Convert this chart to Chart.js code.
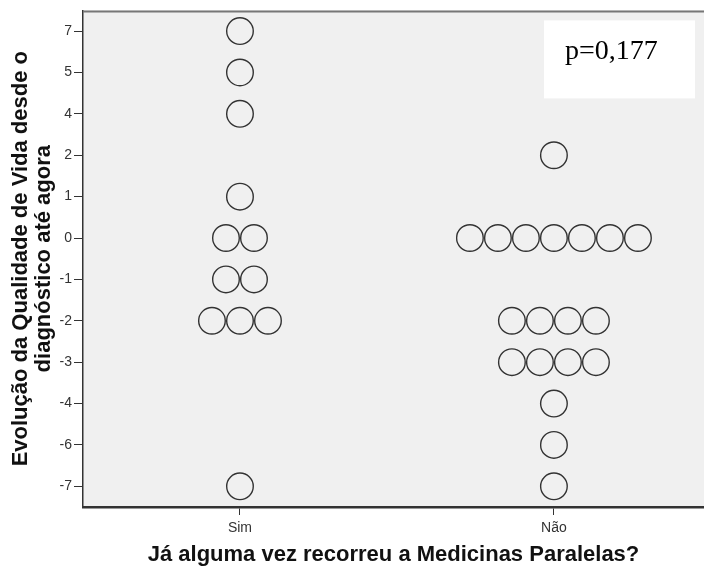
<!DOCTYPE html>
<html>
<head>
<meta charset="utf-8">
<script src="https://cdn.jsdelivr.net/npm/chart.js@4/dist/chart.umd.min.js"></script>
<style>
  html, body { margin: 0; padding: 0; background: #ffffff; overflow: hidden; }
  #wrap { width: 704px; height: 569px; position: relative; }
</style>
</head>
<body>
<div id="wrap"><canvas id="c"></canvas></div>
<script>
// ---- data ----
const groups = ['Sim', 'Não'];
const yLabels = ['7', '5', '4', '2', '1', '0', '-1', '-2', '-3', '-4', '-6', '-7'];
const simCounts = [1, 1, 1, 0, 1, 2, 2, 3, 0, 0, 0, 1];
const naoCounts = [0, 0, 0, 1, 0, 7, 0, 4, 4, 1, 1, 1];
const yTitle = ['Evolução da Qualidade de Vida desde o', 'diagnóstico até agora'];
const xTitle = 'Já alguma vez recorreu a Medicinas Paralelas?';
const pText = 'p=0,177';

// ---- build dot plot points (side-by-side stacking around the group) ----
const DOT_STEP = 0.0892; // horizontal spacing between stacked dots, in x units
function buildPoints(groupIndex, counts) {
  const pts = [];
  counts.forEach((n, i) => {
    for (let k = 0; k < n; k++) {
      pts.push({ x: groupIndex + (k - (n - 1) / 2) * DOT_STEP, y: yLabels[i] });
    }
  });
  return pts;
}

const dotStyle = {
  pointRadius: 13.3,
  pointHoverRadius: 13.3,
  pointBorderWidth: 1.4,
  pointBorderColor: '#333333',
  pointBackgroundColor: 'rgba(0,0,0,0)',
  showLine: false
};

const plotDecor = {
  id: 'plotDecor',
  beforeDraw(chart) {
    const { ctx, chartArea: a } = chart;
    ctx.save();
    ctx.fillStyle = '#f0f0f0';
    ctx.fillRect(a.left, a.top, a.right - a.left, a.bottom - a.top);
    ctx.restore();
  },
  afterDraw(chart) {
    const { ctx, chartArea: a } = chart;
    ctx.save();
    // top frame line
    ctx.strokeStyle = '#777777';
    ctx.lineWidth = 2;
    ctx.beginPath();
    ctx.moveTo(a.left, a.top + 1);
    ctx.lineTo(a.right, a.top + 1);
    ctx.stroke();
    // p-value box
    const bx = a.right - 160, by = a.top + 10, bw = 151, bh = 78;
    ctx.fillStyle = '#ffffff';
    ctx.fillRect(bx, by, bw, bh);
    ctx.fillStyle = '#000000';
    ctx.font = '28px "Liberation Serif", "Times New Roman", serif';
    ctx.textAlign = 'left';
    ctx.textBaseline = 'alphabetic';
    ctx.fillText(pText, bx + 21, by + 39);
    // y axis title (two lines, rotated)
    ctx.fillStyle = '#111111';
    ctx.font = 'bold 22px "Liberation Sans", Arial, sans-serif';
    ctx.textAlign = 'center';
    const cy = (a.top + a.bottom) / 2;
    yTitle.forEach((line, i) => {
      ctx.save();
      ctx.translate(27 + i * 23, cy);
      ctx.rotate(-Math.PI / 2);
      ctx.fillText(line, 0, 0);
      ctx.restore();
    });
    // x axis title
    ctx.fillText(xTitle, (a.left + a.right) / 2, 561);
    ctx.restore();
  }
};

new Chart(document.getElementById('c'), {
  type: 'scatter',
  data: {
    datasets: [
      Object.assign({ label: groups[0], data: buildPoints(0, simCounts) }, dotStyle),
      Object.assign({ label: groups[1], data: buildPoints(1, naoCounts) }, dotStyle)
    ]
  },
  options: {
    responsive: true,
    maintainAspectRatio: false,
    animation: false,
    events: [],
    layout: { autoPadding: false, padding: { top: 8, right: 0, left: 0, bottom: 0 } },
    plugins: { legend: { display: false }, tooltip: { enabled: false } },
    scales: {
      x: {
        type: 'linear',
        min: -0.5,
        max: 1.478,
        afterBuildTicks(scale) { scale.ticks = [{ value: 0 }, { value: 1 }]; },
        afterFit(scale) { scale.height = 62; },
        ticks: {
          callback: (v) => groups[v],
          color: '#333333',
          padding: 5,
          font: { family: '"Liberation Sans", Arial, sans-serif', size: 14 },
          maxRotation: 0,
          autoSkip: false
        },
        grid: { drawOnChartArea: false, drawTicks: true, tickLength: 8, tickColor: '#333333', tickWidth: 1 },
        border: { display: true, color: '#333333', width: 2.5 }
      },
      y: {
        type: 'category',
        labels: yLabels,
        offset: true,
        afterFit(scale) { scale.width = 83; },
        ticks: {
          color: '#333333',
          padding: 2,
          font: { family: '"Liberation Sans", Arial, sans-serif', size: 14 },
          autoSkip: false
        },
        grid: { offset: false, drawOnChartArea: false, drawTicks: true, tickLength: 9, tickColor: '#333333', tickWidth: 1 },
        border: { display: true, color: '#333333', width: 1.5 }
      }
    }
  },
  plugins: [plotDecor]
});
</script>
</body>
</html>
